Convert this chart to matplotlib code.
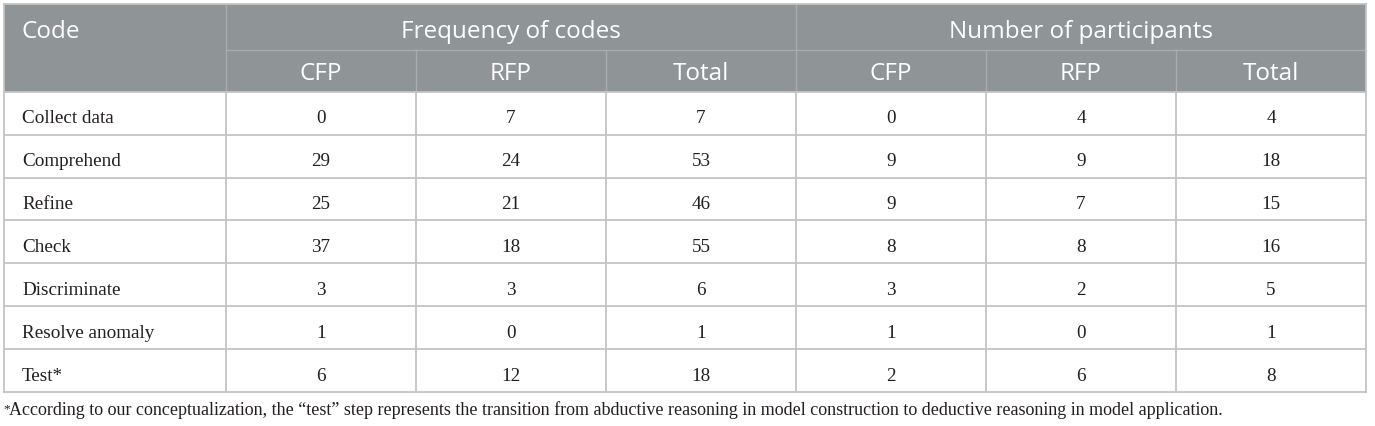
import matplotlib
matplotlib.use('Agg')
import matplotlib.pyplot as plt
from matplotlib.patches import Rectangle

# table content
codes = ['Collect data', 'Comprehend', 'Refine', 'Check', 'Discriminate',
         'Resolve anomaly', 'Test*']
freq_cfp = [0, 29, 25, 37, 3, 1, 6]
freq_rfp = [7, 24, 21, 18, 3, 0, 12]
freq_total = [7, 53, 46, 55, 6, 1, 18]
part_cfp = [0, 9, 9, 8, 3, 1, 2]
part_rfp = [4, 9, 7, 8, 2, 0, 6]
part_total = [4, 18, 15, 16, 5, 1, 8]
groups = ['Frequency of codes', 'Number of participants']
sub_labels = ['CFP', 'RFP', 'Total']
footnote = ('According to our conceptualization, the \u201ctest\u201d step represents the '
            'transition from abductive reasoning in model construction to deductive '
            'reasoning in model application.')

W, H = 1375, 427
header_bg = '#8f9497'
header_line = '#a9adb0'
grid = '#c4c4c4'
txt = '#231f20'

fig = plt.figure(figsize=(W / 100, H / 100), dpi=100)
ax = fig.add_axes([0, 0, 1, 1])
ax.set_xlim(0, W)
ax.set_ylim(H, 0)
ax.axis('off')

# layout in pixels
x_left, x_code, col_w = 4, 226, 190
col_x = [x_code + i * col_w for i in range(7)]
y_top, y_h1, y_h2 = 5, 50.7, 92.7
row_h = 42.9
n = len(codes)
y_bot = y_h2 + n * row_h

# header background
ax.add_patch(Rectangle((x_left, y_top), col_x[-1] - x_left, y_h2 - y_top,
                       facecolor=header_bg, edgecolor='none'))
# header lines
ax.plot([x_code, col_x[-1]], [y_h1, y_h1], color=header_line, lw=1)
for i, x in enumerate(col_x[:-1]):
    y0 = y_top if i % 3 == 0 else y_h1
    ax.plot([x, x], [y0, y_h2], color=header_line, lw=1)

hfont = dict(family='Open Sans', color='white', fontsize=17.5)
ax.text(22, 38.3, 'Code', ha='left', va='baseline', **hfont)
for g, name in enumerate(groups):
    xc = (col_x[g * 3] + col_x[g * 3 + 3]) / 2
    ax.text(xc, 38.3, name, ha='center', va='baseline', **hfont)
    for k, s in enumerate(sub_labels):
        xc = (col_x[g * 3 + k] + col_x[g * 3 + k + 1]) / 2
        ax.text(xc, 80, s, ha='center', va='baseline', **hfont)

# body grid
for r in range(n + 1):
    y = y_h2 + r * row_h
    ax.plot([x_left, col_x[-1]], [y, y], color=grid, lw=1.3)
ax.plot([x_left, col_x[-1]], [y_top - 0.5, y_top - 0.5], color=grid, lw=1.3)
for x in [x_left] + col_x:
    y0 = y_top if x in (x_left, col_x[-1]) else y_h2
    ax.plot([x, x], [y0, y_bot], color=grid, lw=1.3)

bfont = dict(family='Liberation Serif', color=txt, fontsize=13.8)
columns = [freq_cfp, freq_rfp, freq_total, part_cfp, part_rfp, part_total]
for r, code in enumerate(codes):
    yb = y_h2 + r * row_h + 30.5
    ax.text(22, yb, code, ha='left', va='baseline', **bfont)
    for c, vals in enumerate(columns):
        xc = (col_x[c] + col_x[c + 1]) / 2
        ax.text(xc, yb, str(vals[r]), ha='center', va='baseline', **bfont)

# footnote
ax.text(3, 412, '*', ha='left', va='baseline', family='Liberation Serif',
        color=txt, fontsize=9.5)
ax.text(9, 415, footnote, ha='left', va='baseline', family='Liberation Serif',
        color=txt, fontsize=13.0)

fig.savefig('out.png', dpi=100, facecolor='white')
